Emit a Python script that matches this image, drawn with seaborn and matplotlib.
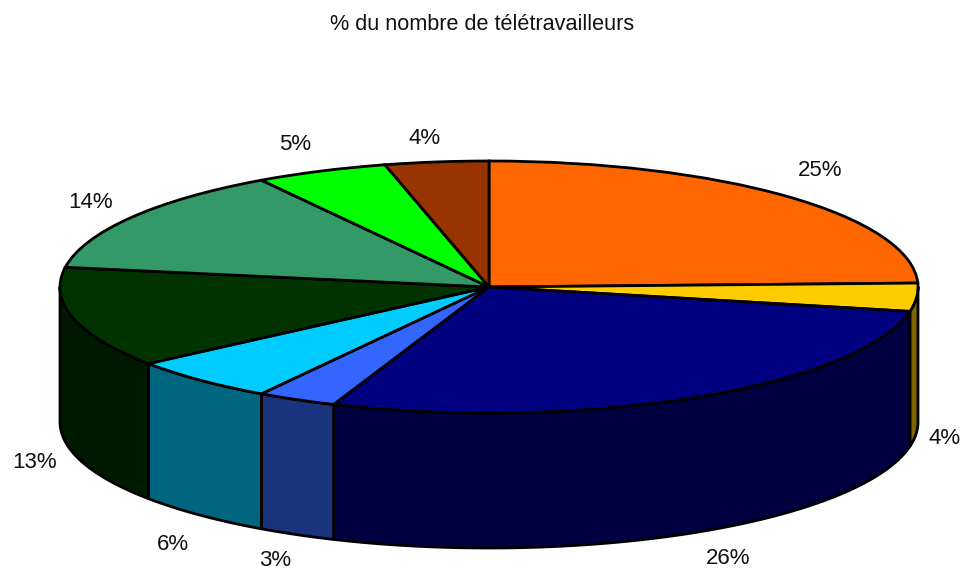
import numpy as np
import matplotlib
matplotlib.use('Agg')
import matplotlib.pyplot as plt
import seaborn as sns

sns.set_style('white')
plt.rcParams['font.family'] = ['Liberation Sans', 'DejaVu Sans']

title = '% du nombre de télétravailleurs'
# printed labels
labels = ['25%', '4%', '26%', '3%', '6%', '13%', '14%', '5%', '4%']
# share of the ellipse each slice really covers in the picture
shares = [24.5, 3.6, 27.8, 3.0, 5.7, 12.9, 13.6, 5.0, 3.9]
top_colors = ['#ff6600', '#ffcc00', '#000080', '#3366ff', '#00ccff',
              '#003300', '#339966', '#00ff00', '#993300']
side_colors = ['#7f3300', '#7f6600', '#000040', '#1a337f', '#006680',
               '#001a00', '#1a4d33', '#008000', '#4d1a00']

W, H = 962, 571
cx, cy = 489, 287
rx, ry = 429, 126
depth = 135 / ry

fig = plt.figure(figsize=(W / 100, H / 100), dpi=100)
ax = fig.add_axes([0, 0, 1, 1])

wedges, _ = ax.pie(shares, colors=sns.color_palette(top_colors), startangle=90,
                   counterclock=False, radius=1,
                   wedgeprops={'edgecolor': 'black', 'linewidth': 2, 'zorder': 3})
ax.set_aspect('auto')
ax.set_xlim(-cx / rx, (W - cx) / rx)
ax.set_ylim((cy - H) / ry, cy / ry)

# side wall of the disc, only the front half shows
edges = np.cumsum([0] + shares) / sum(shares) * 360
for i in range(len(shares)):
    a0 = max(edges[i], 90)
    a1 = min(edges[i + 1], 270)
    if a1 <= a0:
        continue
    t = np.radians(np.linspace(a0, a1, 80))
    x = np.sin(t)
    y = np.cos(t)
    ax.fill(np.r_[x, x[::-1]], np.r_[y, y[::-1] - depth],
            facecolor=side_colors[i], edgecolor='black', linewidth=2,
            zorder=2, joinstyle='round')

# pixel centres of the labels
label_x = [820, 945, 728, 275, 173, 35, 91, 295, 425]
label_y = [171, 439, 559, 560, 545, 462, 203, 145, 138]
for s, lx, ly in zip(labels, label_x, label_y):
    ax.text((lx - cx) / rx, (cy - ly) / ry, s, ha='center', va='center',
            fontsize=16, color='#111111', zorder=5)

ax.text((482.5 - cx) / rx, (cy - 25) / ry, title, ha='center', va='center',
        fontsize=15.6, color='#111111', zorder=5)

fig.savefig('out.png', dpi=100)
